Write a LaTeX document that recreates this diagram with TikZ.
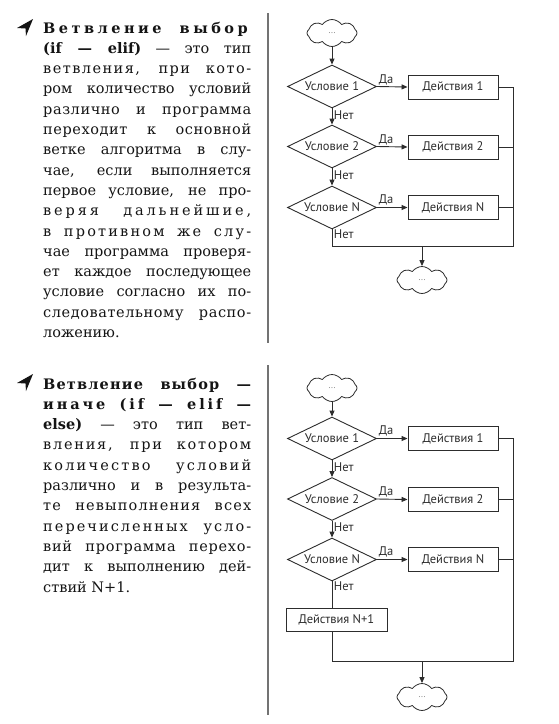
\documentclass[tikz,border=0pt]{standalone}
\usepackage{fontspec}
\setmainfont{DejaVu Serif}
\newfontfamily\flowfont{PT Sans}
\usetikzlibrary{arrows.meta, shapes.geometric, shapes.symbols}
\definecolor{InkGray}{RGB}{45,45,45}
\definecolor{TextInk}{RGB}{20,20,20}
\definecolor{RuleGray}{RGB}{115,115,115}
\newcommand\spaced[2]{{\addfontfeature{LetterSpace=#1}#2}}

\begin{document}
\begin{tikzpicture}[x=1pt,y=-1pt,
    decision/.style={diamond,draw=InkGray,line width=0.9pt,aspect=2.07,minimum width=89pt,minimum height=43pt,inner sep=0pt,text=InkGray,font=\flowfont\fontsize{12.5}{13}\selectfont},
    action/.style={rectangle,draw=InkGray,line width=0.9pt,minimum width=90pt,minimum height=24pt,inner sep=0pt,text=InkGray,font=\flowfont\fontsize{12.5}{13}\selectfont},
    terminal/.style={cloud,cloud puffs=8,cloud puff arc=110,aspect=1.85,draw=InkGray,line width=0.8pt,minimum width=50pt,minimum height=27pt,inner sep=0pt,text=gray,font=\flowfont\fontsize{9}{9}\selectfont},
    arr/.style={draw=InkGray,line width=0.9pt,-{Triangle[length=6pt,width=5pt]}},
    flow/.style={draw=InkGray,line width=0.9pt},
    lbl/.style={inner sep=1.5pt,text=InkGray,font=\flowfont\fontsize{12.5}{13}\selectfont},
    bodytext/.style={anchor=base west,text width=208pt,align=justify,inner sep=0pt,text=TextInk,font=\fontsize{14.5}{20.3}\selectfont},
    divider/.style={draw=RuleGray,line width=2pt},
    bullet/.style={fill=TextInk}]
  \fill[white] (0,0) rectangle (558,724);

  % --- if -- elif ---
  \fill[bullet] (17,28) -- (33,19) -- (26,36) -- (25.5,28.5) -- cycle;
  \node[bodytext] (texta) at (43,33) {\tolerance=10000\hbadness=10000\hyphenpenalty=10000
    \textbf{\spaced{24}{Ветвление выбор}}\linebreak
    \textbf{(if — elif)} — это тип\linebreak
    \spaced{10}{ветвления, при кото-}\linebreak
    ром количество условий\linebreak
    \spaced{4}{различно и программа}\linebreak
    \spaced{4}{переходит к основной}\linebreak
    ветке алгоритма в слу-\linebreak
    чае, если выполняется\linebreak
    первое условие, не про-\linebreak
    \spaced{20}{веряя дальнейшие,}\linebreak
    \spaced{15}{в противном же слу-}\linebreak
    чае программа проверя-\linebreak
    ет каждое последующее\linebreak
    условие согласно их по-\linebreak
    \spaced{4}{следовательному распо-}\linebreak
    ложению.};
  \draw[divider] (268,13) -- (268,343);

  \node[terminal] (starta) at (332,33) {...};
  \node[decision] (conda1) at (332,86.5) {Условие 1};
  \node[action] (acta1) at (453,87) {Действия 1};
  \node[decision] (conda2) at (332,146.5) {Условие 2};
  \node[action] (acta2) at (453,147) {Действия 2};
  \node[decision] (condaN) at (332,207.5) {Условие N};
  \node[action] (actaN) at (453,207.5) {Действия N};
  \node[terminal] (enda) at (422,280) {...};
  \coordinate (joina) at (332,246);
  \coordinate (busa) at (513,246);
  \coordinate (outa) at (422,246);

  \draw[arr] (starta) -- (conda1);
  \draw[arr] (conda1.east) -- node[lbl,above,pos=0.3] {Да} (acta1.west);
  \draw[arr] (conda2.east) -- node[lbl,above,pos=0.3] {Да} (acta2.west);
  \draw[arr] (condaN.east) -- node[lbl,above,pos=0.3] {Да} (actaN.west);
  \draw[arr] (conda1.south) -- node[lbl,right,pos=0.4] {Нет} (conda2.north);
  \draw[arr] (conda2.south) -- node[lbl,right,pos=0.4] {Нет} (condaN.north);
  \draw[flow] (condaN.south) -- node[lbl,right,pos=0.3] {Нет} (joina) -- (busa) |- (acta1.east);
  \draw[flow] (acta2.east) -- (acta2.east -| busa);
  \draw[flow] (actaN.east) -- (actaN.east -| busa);
  \draw[arr] (outa) -- (enda);

  % --- if -- elif -- else ---
  \fill[bullet] (17,383) -- (33,374) -- (26,391) -- (25.5,383.5) -- cycle;
  \node[bodytext] (textb) at (43,389) {\tolerance=10000\hbadness=10000\hyphenpenalty=10000
    \textbf{\spaced{8}{Ветвление выбор —}}\linebreak
    \textbf{\spaced{20}{иначе (if — elif —}}\linebreak
    \textbf{else)} — это тип вет-\linebreak
    \spaced{12}{вления, при котором}\linebreak
    \spaced{15}{количество условий}\linebreak
    различно и в результа-\linebreak
    \spaced{8}{те невыполнения всех}\linebreak
    \spaced{14}{перечисленных усло-}\linebreak
    \spaced{5}{вий программа перехо-}\linebreak
    дит к выполнению дей-\linebreak
    ствий N+1.};
  \draw[divider] (268,365) -- (268,715);

  \node[terminal] (startb) at (332,388) {...};
  \node[decision] (condb1) at (332,438.5) {Условие 1};
  \node[action] (actb1) at (453,438.5) {Действия 1};
  \node[decision] (condb2) at (332,499) {Условие 2};
  \node[action] (actb2) at (453,499.5) {Действия 2};
  \node[decision] (condbN) at (332,559.5) {Условие N};
  \node[action] (actbN) at (453,559.5) {Действия N};
  \node[action,minimum width=101pt,minimum height=23pt] (actbelse) at (336.5,619.5) {Действия N+1};
  \node[terminal] (endb) at (422,697) {...};
  \coordinate (joinb) at (332,661);
  \coordinate (busb) at (513,661);
  \coordinate (outb) at (422,661);

  \draw[arr] (startb) -- (condb1);
  \draw[arr] (condb1.east) -- node[lbl,above,pos=0.3] {Да} (actb1.west);
  \draw[arr] (condb2.east) -- node[lbl,above,pos=0.3] {Да} (actb2.west);
  \draw[arr] (condbN.east) -- node[lbl,above,pos=0.3] {Да} (actbN.west);
  \draw[arr] (condb1.south) -- node[lbl,right,pos=0.4] {Нет} (condb2.north);
  \draw[arr] (condb2.south) -- node[lbl,right,pos=0.4] {Нет} (condbN.north);
  \draw[flow] (condbN.south) -- node[lbl,right,pos=0.2] {Нет} (condbN.south |- actbelse.north);
  \draw[flow] (actbelse.south -| joinb) -- (joinb) -- (busb) |- (actb1.east);
  \draw[flow] (actb2.east) -- (actb2.east -| busb);
  \draw[flow] (actbN.east) -- (actbN.east -| busb);
  \draw[arr] (outb) -- (endb);
\end{tikzpicture}
\end{document}
